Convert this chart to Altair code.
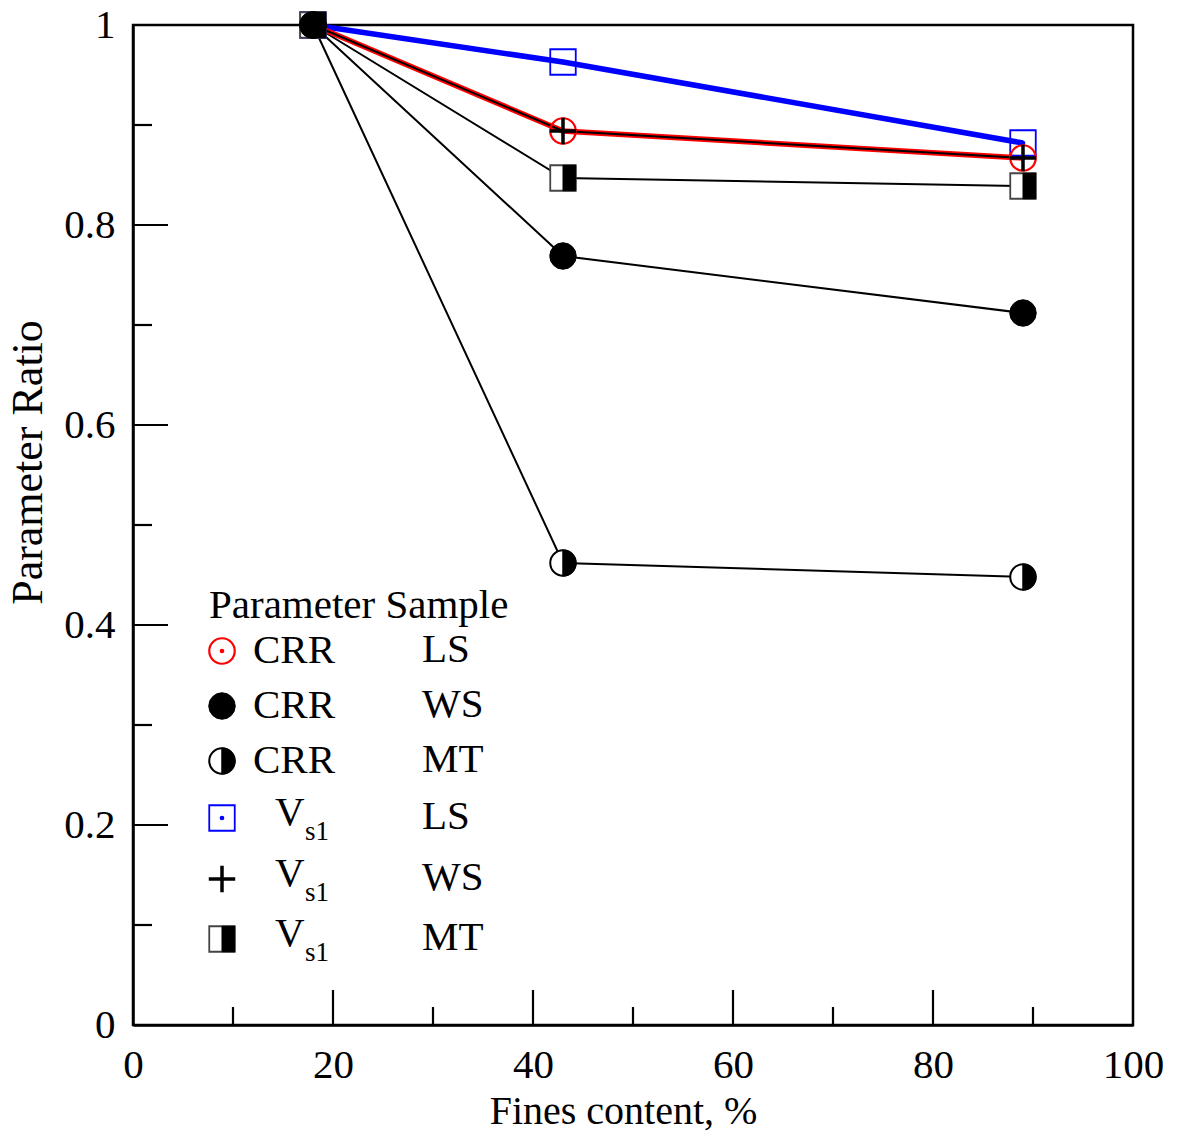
import altair as alt
import pandas as pd

# ---------------- data ----------------
fines = [18, 43, 89]
crr_ls = [1.0, 0.894, 0.867]
crr_ws = [1.0, 0.769, 0.712]
crr_mt = [1.0, 0.462, 0.448]
vs1_ls = [1.0, 0.963, 0.882]
vs1_ws = [1.0, 0.894, 0.867]
vs1_mt = [1.0, 0.847, 0.839]

x_labels = [0, 20, 40, 60, 80, 100]
y_labels = [0, 0.2, 0.4, 0.6, 0.8, 1.0]
x_major = [20, 40, 60, 80]
x_minor = [10, 30, 50, 70, 90]
y_major = [0.2, 0.4, 0.6, 0.8]
y_minor = [0.1, 0.3, 0.5, 0.7, 0.9]

legend_title = ["Parameter Sample"]
legend_keys = ["crr_ls", "crr_ws", "crr_mt", "vs1_ls", "vs1_ws", "vs1_mt"]
legend_param = ["CRR", "CRR", "CRR", "V", "V", "V"]
legend_sub = ["", "", "", "s1", "s1", "s1"]
legend_sample = ["LS", "WS", "MT", "LS", "WS", "MT"]

# ---------------- layout constants (legend placement in data units) ----------------
LEG_TITLE_X, LEG_TITLE_Y = 7.6, 0.419
LEG_MARK_X = 8.9
LEG_CRR_X = 12.0
LEG_V_X = 14.2
LEG_SUB_X = 17.2
LEG_SAMPLE_X = 28.9
LEG_ROWS_Y = [0.374, 0.319, 0.264, 0.207, 0.146, 0.086]

FONT = "Liberation Serif"
LEG_FS = 41
MSIZE = 650

RIGHT_HALF_CIRCLE = ("M0,-1C0.5523,-1,1,-0.5523,1,0C1,0.5523,0.5523,1,0,1Z")
RIGHT_HALF_SQUARE = "M0,-1L1,-1L1,1L0,1Z"
PLUS = "M-1,0L1,0M0,-1L0,1"

xs = alt.Scale(domain=[0, 100], nice=False, zero=False)
ys = alt.Scale(domain=[0, 1], nice=False, zero=False)

x_axis = alt.Axis(
    values=x_labels, format="d", ticks=False, grid=False, domain=True,
    domainColor="black", domainWidth=2.5, labelFont=FONT, labelFontSize=41,
    labelColor="black", labelPadding=20, labelFlush=False, labelOverlap=False,
    title="Fines content, %", titleFont=FONT, titleFontSize=40,
    titleFontWeight="normal", titleColor="black", titleX=490, titleY=86,
    titleBaseline="middle", titleAlign="center",
)
y_axis = alt.Axis(
    values=y_labels, format="~g", ticks=False, grid=False, domain=True,
    domainColor="black", domainWidth=2.5, labelFont=FONT, labelFontSize=41,
    labelColor="black", labelPadding=18, labelFlush=False, labelOverlap=False,
    title="Parameter Ratio", titleFont=FONT, titleFontSize=44,
    titleFontWeight="normal", titleColor="black", titleAngle=270,
    titleX=-105, titleY=437, titleBaseline="middle", titleAlign="center",
)


def X():
    return alt.X("x:Q", scale=xs, axis=x_axis)


def Y():
    return alt.Y("y:Q", scale=ys, axis=y_axis)


def frame(xv, yv):
    return pd.DataFrame({"x": xv, "y": yv})


def line(vals, color, width):
    return alt.Chart(frame(fines, vals)).mark_line(
        color=color, strokeWidth=width
    ).encode(x=X(), y=Y())


def pt(df, **kw):
    base = dict(opacity=1, size=MSIZE)
    base.update(kw)
    return alt.Chart(df).mark_point(**base).encode(x=X(), y=Y())


def markers(kind, df):
    if kind == "crr_ls":
        return [pt(df, shape="circle", filled=False, stroke="red", strokeWidth=2.2),
                pt(df, shape="circle", filled=True, fill="red", stroke="red",
                   strokeWidth=0, size=22)]
    if kind == "vs1_ls":
        return [pt(df, shape="square", filled=False, stroke="blue", strokeWidth=1.8),
                pt(df, shape="circle", filled=True, fill="blue", stroke="blue",
                   strokeWidth=0, size=22)]
    if kind == "crr_ws":
        return [pt(df, shape="circle", filled=True, fill="black", stroke="black",
                   strokeWidth=1, size=700)]
    if kind == "crr_mt":
        return [pt(df, shape="circle", filled=True, fill="white", stroke="black",
                   strokeWidth=2),
                pt(df, shape=RIGHT_HALF_CIRCLE, filled=True, fill="black",
                   stroke="black", strokeWidth=1.5)]
    if kind == "vs1_mt":
        return [pt(df, shape="square", filled=True, fill="white", stroke="#444",
                   strokeWidth=1.8),
                pt(df, shape=RIGHT_HALF_SQUARE, filled=True, fill="black",
                   stroke="black", strokeWidth=1)]
    if kind == "vs1_ws":
        return [pt(df, shape=PLUS, filled=False, stroke="black", strokeWidth=3.5,
                   size=700)]
    return []


series = {
    "crr_ls": crr_ls, "crr_ws": crr_ws, "crr_mt": crr_mt,
    "vs1_ls": vs1_ls, "vs1_ws": vs1_ws, "vs1_mt": vs1_mt,
}

layers = []

# inward ticks drawn through the scales
layers.append(alt.Chart(pd.DataFrame({"x": x_major})).mark_rule(
    color="black", strokeWidth=2.2).encode(x=X(), y=alt.value(1000), y2=alt.value(965)))
layers.append(alt.Chart(pd.DataFrame({"x": x_minor})).mark_rule(
    color="black", strokeWidth=2.2).encode(x=X(), y=alt.value(1000), y2=alt.value(982)))
layers.append(alt.Chart(pd.DataFrame({"y": y_major})).mark_rule(
    color="black", strokeWidth=2.2).encode(y=Y(), x=alt.value(0), x2=alt.value(35)))
layers.append(alt.Chart(pd.DataFrame({"y": y_minor})).mark_rule(
    color="black", strokeWidth=2.2).encode(y=Y(), x=alt.value(0), x2=alt.value(19)))

# lines
layers.append(line(crr_mt, "black", 2))
layers.append(line(crr_ws, "black", 2))
layers.append(line(vs1_mt, "black", 2))
layers.append(line(vs1_ls, "blue", 5.5))
layers.append(line(crr_ls, "red", 5.5))
layers.append(line(vs1_ws, "black", 2))

# markers (draw order chosen so overlapping points look like the original)
for key in ["vs1_ls", "crr_ls", "vs1_mt", "crr_mt", "crr_ws", "vs1_ws"]:
    layers += markers(key, frame(fines, series[key]))

# ---------------- legend ----------------
title_df = pd.DataFrame({"x": [LEG_TITLE_X], "y": [LEG_TITLE_Y], "t": legend_title})
layers.append(alt.Chart(title_df).mark_text(
    align="left", baseline="middle", font=FONT, fontSize=LEG_FS, color="black"
).encode(x=X(), y=Y(), text="t:N"))

for i, key in enumerate(legend_keys):
    ry = LEG_ROWS_Y[i]
    layers += markers(key, frame([LEG_MARK_X], [ry]))
    if legend_sub[i]:
        layers.append(alt.Chart(pd.DataFrame({"x": [LEG_V_X], "y": [ry], "t": [legend_param[i]]}))
                      .mark_text(align="left", baseline="middle", font=FONT, fontSize=LEG_FS,
                                 color="black", dy=-5)
                      .encode(x=X(), y=Y(), text="t:N"))
        layers.append(alt.Chart(pd.DataFrame({"x": [LEG_SUB_X], "y": [ry], "t": [legend_sub[i]]}))
                      .mark_text(align="left", baseline="middle", font=FONT, fontSize=27,
                                 color="black", dy=14)
                      .encode(x=X(), y=Y(), text="t:N"))
    else:
        layers.append(alt.Chart(pd.DataFrame({"x": [LEG_CRR_X], "y": [ry], "t": [legend_param[i]]}))
                      .mark_text(align="left", baseline="middle", font=FONT, fontSize=LEG_FS,
                                 color="black")
                      .encode(x=X(), y=Y(), text="t:N"))
    layers.append(alt.Chart(pd.DataFrame({"x": [LEG_SAMPLE_X], "y": [ry], "t": [legend_sample[i]]}))
                  .mark_text(align="left", baseline="middle", font=FONT, fontSize=LEG_FS,
                             color="black", dy=-1)
                  .encode(x=X(), y=Y(), text="t:N"))

chart = alt.layer(*layers).properties(
    width=1000,
    height=1000,
    autosize=alt.AutoSizeParams(type="none"),
    padding={"left": 133, "top": 25, "right": 46, "bottom": 113},
    background="white",
).configure_view(stroke="black", strokeWidth=2.5)

chart.save("out.html", embed_options={"renderer": "svg", "actions": False})
